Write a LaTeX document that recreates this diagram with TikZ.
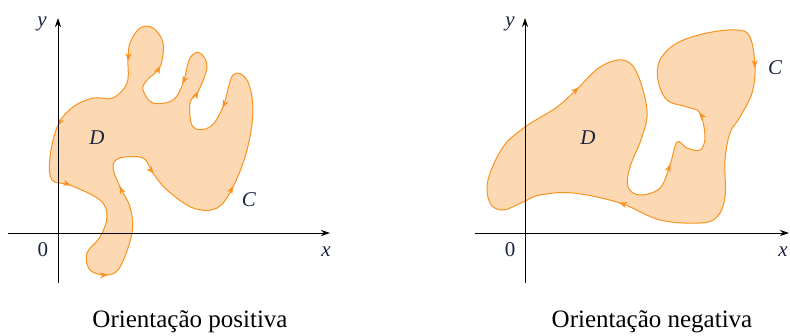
\documentclass[tikz,border=0pt]{standalone}
\usepackage{fontspec}
\setmainfont{Liberation Serif}
\usetikzlibrary{arrows.meta,calc}

\definecolor{regiao}{HTML}{FDD9B3}
\definecolor{curva}{HTML}{F7931E}
\definecolor{rotulo}{HTML}{1B2540}

\tikzset{
  eixo/.style={line width=0.8pt,-{Stealth[length=9pt,width=6pt]}},
  bordo/.style={draw=curva,fill=regiao,line width=1pt},
  ponta/.style={draw=curva,line width=0.6pt,-{Stealth[length=8pt,width=6pt]}},
  letra/.style={text=rotulo,font=\fontsize{21}{24}\selectfont\itshape},
  legenda/.style={font=\fontsize{25}{28}\selectfont},
}
% seta ao longo da curva: anterior, ponto, seguinte
\newcommand\setacurva[3]{\draw[ponta] ($(#2)!1pt!(#1)$) -- ($(#2)!1pt!(#3)$);}

\begin{document}
\begin{tikzpicture}[x=1pt,y=-1pt]
  \useasboundingbox (0,0) rectangle (790,335);

  % ===== regiao com orientacao positiva =====
  \draw[bordo] plot[smooth cycle,tension=0.6] coordinates {
    (58,125) (50,157) (52,180) (70,185) (100,200) (107,217) (100,237)
    (87,253) (90,270) (107,275) (120,267) (132,233) (130,207) (120,187)
    (113,167) (120,158) (143,158) (153,173) (167,190) (193,208) (217,208)
    (233,187) (247,150) (253,110) (247,80) (233,75) (223,107) (210,127)
    (193,127) (190,103) (198,92) (207,67) (200,53) (190,58) (183,83)
    (173,100) (153,103) (143,90) (147,80) (160,67) (163,43) (153,28)
    (140,28) (130,43) (128,60) (127,83) (113,98) (93,98) (73,107)};

  \setacurva{73,107}{58,125}{50,157}
  \setacurva{52,180}{70,185}{100,200}
  \setacurva{90,270}{107,275}{120,267}
  \setacurva{130,207}{120,187}{113,167}
  \setacurva{143,158}{153,173}{167,190}
  \setacurva{217,208}{233,187}{247,150}
  \setacurva{233,75}{223,107}{210,127}
  \setacurva{190,103}{198,92}{207,67}
  \setacurva{190,58}{183,83}{173,100}
  \setacurva{147,80}{160,67}{163,43}
  \setacurva{130,43}{128,60}{127,83}

  % eixos
  \draw[eixo] (8,233) -- (330,233);
  \draw[eixo] (58,283) -- (58,18);
  \node[letra] (y1) at (42,24) {y};
  \node[letra] (x1) at (326,252) {x};
  \node[text=rotulo,font=\fontsize{21}{24}\selectfont] (o1) at (43,250) {0};
  \node[letra] (D1) at (97,138) {D};
  \node[letra] (C1) at (249,200) {C};

  % ===== regiao com orientacao negativa =====
  \draw[bordo] plot[smooth cycle,tension=0.6] coordinates {
    (488,180) (503,147) (525,127) (557,107) (578,88) (600,67) (623,60)
    (637,73) (647,110) (642,137) (630,167) (628,187) (640,195) (660,188)
    (670,165) (677,142) (687,148) (700,150) (705,137) (700,113) (687,107)
    (667,100) (658,80) (660,60) (677,43) (707,33) (737,30) (750,37)
    (755,67) (752,93) (740,117) (730,133) (725,160) (725,197) (717,217)
    (700,223) (660,220) (620,203) (573,193) (540,195) (523,202) (503,210)
    (490,203)};

  \setacurva{557,107}{578,88}{600,67}
  \setacurva{660,188}{670,165}{677,142}
  \setacurva{705,137}{700,113}{687,107}
  \setacurva{750,37}{755,67}{752,93}
  \setacurva{660,220}{620,203}{573,193}

  % eixos
  \draw[eixo] (475,233) -- (789,233);
  \draw[eixo] (525,283) -- (525,18);
  \node[letra] (y2) at (510,24) {y};
  \node[letra] (x2) at (783,252) {x};
  \node[text=rotulo,font=\fontsize{21}{24}\selectfont] (o2) at (510,250) {0};
  \node[letra] (D2) at (588,138) {D};
  \node[letra] (C2) at (775,68) {C};

  % ===== legendas =====
  \node[legenda] (leg1) at (190,322) {Orientação positiva};
  \node[legenda] (leg2) at (652,322) {Orientação negativa};
\end{tikzpicture}
\end{document}
